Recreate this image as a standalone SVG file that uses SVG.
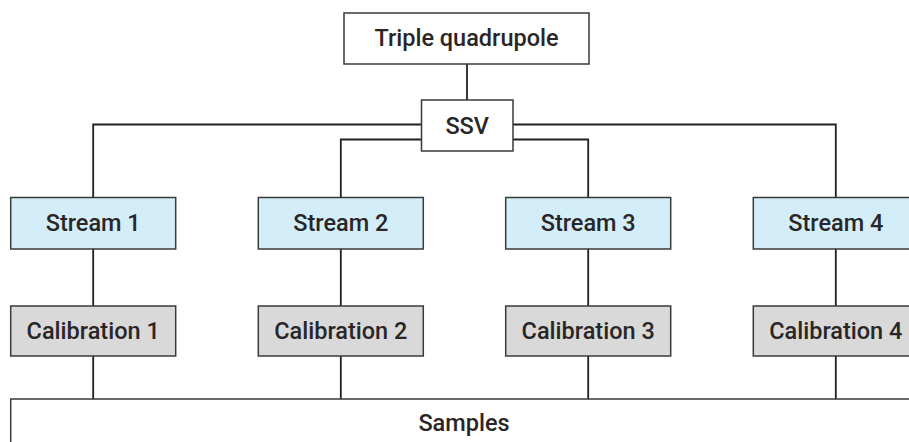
<svg xmlns="http://www.w3.org/2000/svg" width="909" height="442" viewBox="0 0 909 442">
<style>
.box{stroke:#3a3a3a;stroke-width:1.5}
.plain{fill:#ffffff}
.stream{fill:#d3eef9}
.cal{fill:#d9d9d9}
.lbl{font-family:Roboto,"Liberation Sans",sans-serif;font-size:23.5px;font-weight:500;fill:#2a2627;text-anchor:middle}
.conn{fill:none;stroke:#231f20;stroke-width:1.8}
</style>
<rect width="909" height="442" fill="#ffffff"/>
<g id="connectors">
<path class="conn" d="M467 64V100"/>
<path class="conn" d="M421.5 124.5H93.2V197.5M513 124.5H835.8V197.5"/>
<path class="conn" d="M421.5 139.5H340.8V197.5M513 139.5H588.2V197.5"/>
<path class="conn" d="M93.2 249V306M340.8 249V306M588.2 249V306M835.8 249V306"/>
<path class="conn" d="M93.2 356V399M340.8 356V399M588.2 356V399M835.8 356V399"/>
</g>
<g id="triple-quadrupole">
<rect class="box plain" x="344" y="13" width="245" height="51"/>
<text class="lbl" x="466.5" y="46">Triple quadrupole</text>
</g>
<g id="ssv">
<rect class="box plain" x="421.5" y="100" width="91.5" height="51"/>
<text class="lbl" x="467.2" y="133.5">SSV</text>
</g>
<g id="stream-1">
<rect class="box stream" x="10.7" y="197.5" width="165" height="51.5"/>
<text class="lbl" x="93.2" y="231">Stream 1</text>
</g>
<g id="stream-2">
<rect class="box stream" x="258.3" y="197.5" width="165" height="51.5"/>
<text class="lbl" x="340.8" y="231">Stream 2</text>
</g>
<g id="stream-3">
<rect class="box stream" x="505.7" y="197.5" width="165" height="51.5"/>
<text class="lbl" x="588.2" y="231">Stream 3</text>
</g>
<g id="stream-4">
<rect class="box stream" x="753.3" y="197.5" width="165" height="51.5"/>
<text class="lbl" x="835.8" y="231">Stream 4</text>
</g>
<g id="calibration-1">
<rect class="box cal" x="10.7" y="306" width="165" height="50"/>
<text class="lbl" x="93.2" y="339.3">Calibration 1</text>
</g>
<g id="calibration-2">
<rect class="box cal" x="258.3" y="306" width="165" height="50"/>
<text class="lbl" x="340.8" y="339.3">Calibration 2</text>
</g>
<g id="calibration-3">
<rect class="box cal" x="505.7" y="306" width="165" height="50"/>
<text class="lbl" x="588.2" y="339.3">Calibration 3</text>
</g>
<g id="calibration-4">
<rect class="box cal" x="753.3" y="306" width="165" height="50"/>
<text class="lbl" x="835.8" y="339.3">Calibration 4</text>
</g>
<g id="samples">
<rect class="box plain" x="10.7" y="399" width="920" height="60"/>
<text class="lbl" x="464" y="430.5">Samples</text>
</g>
</svg>
